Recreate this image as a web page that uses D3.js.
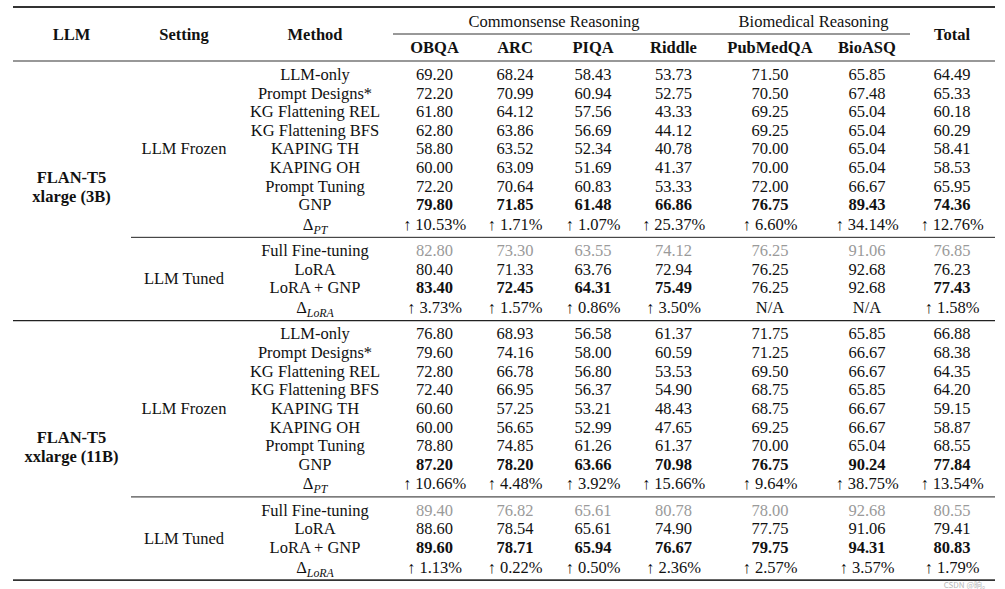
<!DOCTYPE html>
<html><head><meta charset="utf-8">
<script src="https://cdn.jsdelivr.net/npm/d3@7"></script>
<style>html,body{margin:0;padding:0;background:#fff;}svg{display:block;}</style>
</head><body>
<svg id="c" width="1005" height="589"></svg>
<script>
// ---------- DATA ----------
const datasetCols = ["OBQA","ARC","PIQA","Riddle","PubMedQA","BioASQ","Total"];
const groupNames = ["Commonsense Reasoning","Biomedical Reasoning"];
const groupSpans = [4, 2];
const llmNames = [["FLAN-T5","xlarge (3B)"],["FLAN-T5","xxlarge (11B)"]];
const settingNames = ["LLM Frozen","LLM Tuned"];
const frozenMethods = ["LLM-only","Prompt Designs*","KG Flattening REL","KG Flattening BFS","KAPING TH","KAPING OH","Prompt Tuning","GNP"];
const tunedMethods = ["Full Fine-tuning","LoRA","LoRA + GNP"];
const deltaLabels = ["PT","LoRA"];

const frozen3B = [
  [69.20,68.24,58.43,53.73,71.50,65.85,64.49],
  [72.20,70.99,60.94,52.75,70.50,67.48,65.33],
  [61.80,64.12,57.56,43.33,69.25,65.04,60.18],
  [62.80,63.86,56.69,44.12,69.25,65.04,60.29],
  [58.80,63.52,52.34,40.78,70.00,65.04,58.41],
  [60.00,63.09,51.69,41.37,70.00,65.04,58.53],
  [72.20,70.64,60.83,53.33,72.00,66.67,65.95],
  [79.80,71.85,61.48,66.86,76.75,89.43,74.36]
];
const deltaFrozen3B = [10.53,1.71,1.07,25.37,6.60,34.14,12.76];
const tuned3B = [
  [82.80,73.30,63.55,74.12,76.25,91.06,76.85],
  [80.40,71.33,63.76,72.94,76.25,92.68,76.23],
  [83.40,72.45,64.31,75.49,76.25,92.68,77.43]
];
const deltaTuned3B = [3.73,1.57,0.86,3.50,null,null,1.58];
const boldTuned3B = [1,1,1,1,0,0,1];

const frozen11B = [
  [76.80,68.93,56.58,61.37,71.75,65.85,66.88],
  [79.60,74.16,58.00,60.59,71.25,66.67,68.38],
  [72.80,66.78,56.80,53.53,69.50,66.67,64.35],
  [72.40,66.95,56.37,54.90,68.75,65.85,64.20],
  [60.60,57.25,53.21,48.43,68.75,66.67,59.15],
  [60.00,56.65,52.99,47.65,69.25,66.67,58.87],
  [78.80,74.85,61.26,61.37,70.00,65.04,68.55],
  [87.20,78.20,63.66,70.98,76.75,90.24,77.84]
];
const deltaFrozen11B = [10.66,4.48,3.92,15.66,9.64,38.75,13.54];
const tuned11B = [
  [89.40,76.82,65.61,80.78,78.00,92.68,80.55],
  [88.60,78.54,65.61,74.90,77.75,91.06,79.41],
  [89.60,78.71,65.94,76.67,79.75,94.31,80.83]
];
const deltaTuned11B = [1.13,0.22,0.50,2.36,2.57,3.57,1.79];
const boldTuned11B = [1,1,1,1,1,1,1];

// ---------- LAYOUT ----------
const FONT = "'Liberation Serif','Times New Roman',serif";
const FS = 16.5;
const allCols = ["LLM","Setting","Method"].concat(datasetCols);
const x = d3.scaleOrdinal().domain(allCols)
  .range([71.5,184,315,434.5,515,593,673.5,770,867,952]);
const left = 13, right = 995;
const pitch = 18.62, afterRule = 13.3, deltaGap = 19.5, ruleGap = 13.2;
const groupShift = [0, -5];

const svg = d3.select("#c");
svg.append("rect").attr("width",1005).attr("height",589).attr("fill","#fff");

function txt(g, xx, yy, s, opt={}) {
  return g.append("text").attr("x",xx).attr("y",yy + FS*0.34)
    .attr("text-anchor","middle")
    .attr("font-family",FONT).attr("font-size",opt.size||FS)
    .attr("font-weight",opt.bold?"bold":"normal")
    .attr("fill",opt.fill||"#111").text(s);
}
function rule(y, x1, w, col) {
  svg.append("line").attr("x1",x1).attr("x2",right).attr("y1",y).attr("y2",y)
    .attr("stroke",col||"#222").attr("stroke-width",w);
}

// header
rule(7, left, 1.8, "#333");
["LLM","Setting","Method"].forEach(c => txt(svg, x(c), 34, c, {bold:true}));
txt(svg, x("Total"), 34, "Total", {bold:true});
let ci = 0;
groupNames.forEach((gname,i) => {
  const cols = datasetCols.slice(ci, ci+groupSpans[i]);
  const cx = d3.mean(cols, c => x(c));
  txt(svg, cx + groupShift[i], 21, gname);
  ci += groupSpans[i];
});
svg.append("line").attr("x1",393).attr("x2",910).attr("y1",34).attr("y2",34)
  .attr("stroke","#333").attr("stroke-width",1);
datasetCols.slice(0,6).forEach(c => txt(svg, x(c), 47, c, {bold:true}));
rule(61, left, 1.1, "#333");

const fmt = d3.format(".2f");
function deltaRow(y, vals, label) {
  const t = txt(svg, x("Method"), y, "");
  t.append("tspan").text("Δ");
  t.append("tspan").attr("font-style","italic").attr("font-size",FS*0.72)
    .attr("dy",4).text(label);
  vals.forEach((v,j) => {
    if (v === null) txt(svg, x(datasetCols[j]), y, "N/A");
    else txt(svg, x(datasetCols[j]), y, "↑ " + fmt(v) + "%");
  });
}

function block(startRule, llm, frozen, dFrozen, tuned, dTuned, boldTuned) {
  const y = startRule + afterRule;
  const frozenYs = frozenMethods.map((m,i) => y + i*pitch);
  frozenMethods.forEach((m,i) => {
    const yy = frozenYs[i];
    const isBold = m === "GNP";
    txt(svg, x("Method"), yy, m);
    frozen[i].forEach((v,j) => txt(svg, x(datasetCols[j]), yy, fmt(v), {bold:isBold}));
  });
  const dY = frozenYs[frozenYs.length-1] + deltaGap;
  deltaRow(dY, dFrozen, deltaLabels[0]);
  txt(svg, x("Setting"), frozenYs[4], settingNames[0]);
  const r2 = dY + ruleGap;
  rule(r2, 131, 1, "#222");
  const tunedYs = tunedMethods.map((m,i) => r2 + afterRule + i*pitch);
  tunedMethods.forEach((m,i) => {
    const yy = tunedYs[i];
    const gray = i===0, bRow = i===2;
    txt(svg, x("Method"), yy, m);
    tuned[i].forEach((v,j) => txt(svg, x(datasetCols[j]), yy, fmt(v),
      {bold: bRow && boldTuned[j]===1, fill: gray ? "#9a9a9a" : "#111"}));
  });
  const dY2 = tunedYs[2] + deltaGap;
  deltaRow(dY2, dTuned, deltaLabels[1]);
  txt(svg, x("Setting"), (tunedYs[1]+tunedYs[2])/2, settingNames[1]);
  txt(svg, x("LLM"), frozenYs[5] + 10, llm[0], {bold:true});
  txt(svg, x("LLM"), frozenYs[6] + 10.5, llm[1], {bold:true});
  return dY2 + ruleGap;
}

const end1 = block(61, llmNames[0], frozen3B, deltaFrozen3B, tuned3B, deltaTuned3B, boldTuned3B);
rule(end1, left, 1.3, "#222");
const end2 = block(end1, llmNames[1], frozen11B, deltaFrozen11B, tuned11B, deltaTuned11B, boldTuned11B);
rule(end2, left, 1.8, "#333");

// watermark
svg.append("text").attr("x",990).attr("y",588).attr("text-anchor","end")
  .attr("font-family","'Noto Sans CJK SC','Noto Sans',sans-serif").attr("font-size",8)
  .attr("fill","#b8b8b8").text("CSDN @晌。");
</script>
</body></html>
